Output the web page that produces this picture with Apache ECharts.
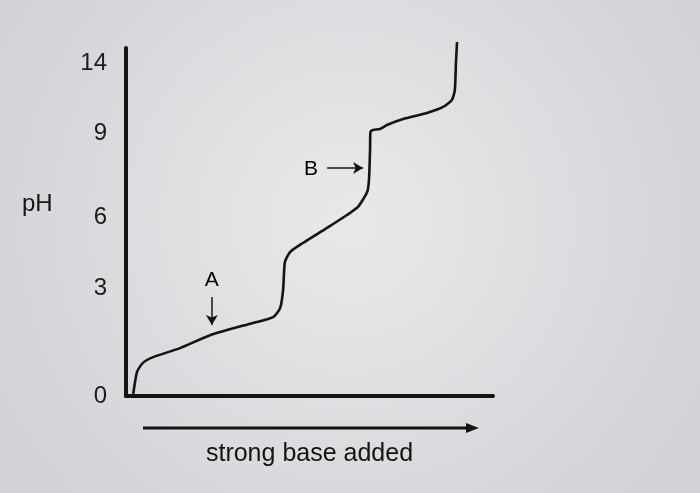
<!DOCTYPE html>
<html>
<head>
<meta charset="utf-8">
<script src="https://cdn.jsdelivr.net/npm/echarts@6/dist/echarts.min.js"></script>
<style>html,body{margin:0;padding:0;background:#e2e3e5;}#c{width:700px;height:493px;}</style>
</head>
<body>
<div id="c"></div>
<script>
// y-axis tick labels (pH) and their calibrated axis positions (the drawing's pH axis is not linear)
const tickPH = [0, 3, 6, 9, 14];
const tickPos = [0, 108, 179, 263, 333];
// titration curve: strong base added (arbitrary units 0-100) vs pH
const baseAdded = [1.9, 3.0, 4.6, 7.4, 14.7, 22.9, 34.6, 40.1, 42.0, 42.8, 43.3, 44.7, 48.2, 54.8, 60.2, 63.2, 65.7, 66.2, 66.5, 66.6, 67.3, 69.2, 71.1, 75.5, 82.0, 86.4, 88.8, 89.6, 89.9, 90.2];
const pHValues = [0.0, 0.67, 0.92, 1.08, 1.33, 1.69, 2.03, 2.19, 2.44, 2.94, 4.10, 4.52, 4.90, 5.54, 6.07, 6.36, 6.89, 7.32, 8.39, 9.07, 9.21, 9.29, 9.57, 10.0, 10.43, 10.86, 11.36, 12.07, 14.0, 15.5];
// annotations
const annoLabels = ['A', 'B'];
const annoLabelX = [23.4, 50.4];
const annoLabelPH = [3.34, 7.72];
const arrowA = { x1: 23.4, ph1: 2.75, x2: 23.4, ph2: 1.97 };
const arrowB = { x1: 54.8, ph1: 7.75, x2: 64.6, ph2: 7.75 };
const xTitle = 'strong base added';
const yTitle = 'pH';

function toAxis(ph) {
  let i = 0;
  while (i < tickPH.length - 2 && ph > tickPH[i + 1]) i++;
  const t = (ph - tickPH[i]) / (tickPH[i + 1] - tickPH[i]);
  return tickPos[i] + t * (tickPos[i + 1] - tickPos[i]);
}

const curve = baseAdded.map((x, i) => [x, toAxis(pHValues[i])]);
const font = "'Liberation Sans', Arial, sans-serif";
const ink = '#141414';

const chart = echarts.init(document.getElementById('c'));
chart.setOption({
  backgroundColor: {
    type: 'radial', x: 0.5, y: 0.45, r: 0.8,
    colorStops: [{ offset: 0, color: '#e8e9eb' }, { offset: 1, color: '#d2d3d6' }]
  },
  animation: false,
  title: {
    text: yTitle, left: 22, top: 192, padding: 0,
    textStyle: { fontFamily: font, fontSize: 24, fontWeight: 'normal', color: ink }
  },
  grid: { left: 126, right: 207, top: 48, bottom: 97 },
  xAxis: {
    type: 'value', min: 0, max: 100,
    name: xTitle, nameLocation: 'middle', nameGap: 46,
    nameTextStyle: { fontFamily: font, fontSize: 25, color: ink },
    axisLine: { show: true, onZero: false, lineStyle: { color: ink, width: 4 } },
    axisTick: { show: false }, axisLabel: { show: false }, splitLine: { show: false }
  },
  yAxis: {
    type: 'value', min: 0, max: 348,
    axisLine: { show: true, onZero: false, lineStyle: { color: ink, width: 4 } },
    axisTick: { show: false },
    splitLine: { show: false },
    axisLabel: {
      show: true, customValues: tickPos, margin: 19,
      fontFamily: font, fontSize: 24, color: '#1c1c1c',
      formatter: function (v) {
        const i = tickPos.indexOf(v);
        return i >= 0 ? String(tickPH[i]) : '';
      }
    }
  },
  graphic: [
    { type: 'polyline', shape: { points: [[143, 428], [468, 428]] }, style: { stroke: ink, lineWidth: 3 } },
    { type: 'polygon', shape: { points: [[466, 423], [479, 428], [466, 433]] }, style: { fill: ink } }
  ],
  series: [
    {
      type: 'line', data: curve, smooth: 0.2, showSymbol: false, clip: false, silent: true,
      lineStyle: { color: ink, width: 2.6 },
      markLine: {
        silent: true, symbol: ['none', 'arrow'], symbolSize: [9, 10],
        label: { show: false },
        lineStyle: { color: ink, width: 1.5, type: 'solid' },
        data: [
          [{ coord: [arrowA.x1, toAxis(arrowA.ph1)] }, { coord: [arrowA.x2, toAxis(arrowA.ph2)] }],
          [{ coord: [arrowB.x1, toAxis(arrowB.ph1)] }, { coord: [arrowB.x2, toAxis(arrowB.ph2)] }]
        ]
      },
      markPoint: {
        silent: true, symbol: 'circle', symbolSize: 1,
        itemStyle: { color: 'rgba(0,0,0,0)' },
        label: {
          show: true, position: 'inside', formatter: '{b}',
          fontFamily: font, fontSize: 21, color: '#000', textBorderWidth: 0
        },
        data: annoLabels.map((n, i) => ({ name: n, coord: [annoLabelX[i], toAxis(annoLabelPH[i])] }))
      }
    }
  ]
});
</script>
</body>
</html>
